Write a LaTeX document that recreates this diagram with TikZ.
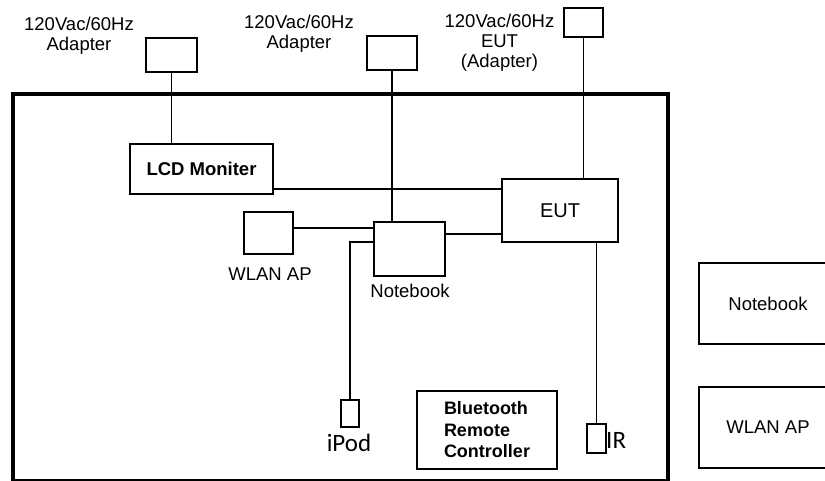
\documentclass[tikz,border=0pt]{standalone}
\usepackage{fontspec}
\setmainfont{Liberation Sans}
\newfontfamily\calfont{Carlito}
\usetikzlibrary{positioning,calc}
\newcommand\lblfont{\fontsize{18.5}{20}\selectfont}
\tikzset{
  unit/.style={draw=black,line width=1.7pt,fill=white,inner sep=0pt,align=center,font=\lblfont},
  boldunit/.style={unit,font=\lblfont\bfseries},
  tag/.style={font=\lblfont,align=center,inner sep=0pt},
  bigtag/.style={font=\calfont\fontsize{25}{27}\selectfont,inner sep=0pt},
  wire/.style={line width=1.8pt,draw=black},
  room/.style={line width=4pt,draw=black}
}
\begin{document}
\begin{tikzpicture}[x=1pt,y=-1pt]
  \useasboundingbox (0,0) rectangle (825,480);
  % test room
  \draw[room] (12.5,94) rectangle (668,481);
  % power adapters
  \node[unit,minimum width=51pt,minimum height=34pt] (adpLcd) at (171.5,55) {};
  \node[unit,minimum width=50pt,minimum height=34pt] (adpNb) at (392,53) {};
  \node[unit,minimum width=39pt,minimum height=29pt] (adpEut) at (583.5,22.5) {};
  \node[tag] (adpLcdTxt) at (79,36) {120Vac/60Hz\\Adapter};
  \node[tag] (adpNbTxt) at (299,34) {120Vac/60Hz\\Adapter};
  \node[tag] (adpEutTxt) at (499.5,43) {120Vac/60Hz\\EUT\\(Adapter)};
  % equipment inside
  \node[boldunit,minimum width=143pt,minimum height=50pt] (lcd) at (201.5,169) {LCD Moniter};
  \node[unit,minimum width=116pt,minimum height=63pt,font=\fontsize{20}{22}\selectfont] (eut) at (560,210.5) {EUT};
  \node[unit,minimum width=71pt,minimum height=54pt] (nb) at (409.5,249) {};
  \node[tag] (nbTxt) at (410,291) {Notebook};
  \node[unit,minimum width=49pt,minimum height=42pt] (wlan) at (268.5,233) {};
  \node[tag] (wlanTxt) at (270,274) {WLAN AP};
  \node[unit,minimum width=18pt,minimum height=27pt] (ipod) at (350,413.5) {};
  \node[bigtag] (ipodTxt) at (349,443) {iPod};
  \node[boldunit,minimum width=140pt,minimum height=78pt,align=left,font=\fontsize{18}{21.5}\selectfont\bfseries] (bt) at (487,430) {Bluetooth\\Remote\\Controller};
  \node[unit,minimum width=19pt,minimum height=29pt] (ir) at (596.5,438.5) {};
  \node[bigtag,anchor=west] (irTxt) at (606,440) {IR};
  % equipment outside
  \node[unit,minimum width=138pt,minimum height=81pt] (nbOut) at (768,303.5) {Notebook};
  \node[unit,minimum width=138pt,minimum height=81pt] (wlanOut) at (768,427.5) {WLAN AP};
  % cables
  \draw[wire] (adpLcd.south) -- (adpLcd.south |- lcd.north);
  \draw[wire] (adpNb.south) -- (adpNb.south |- nb.north);
  \draw[wire] (adpEut.south) -- (adpEut.south |- eut.north);
  \draw[wire] ([yshift=6pt]lcd.south east) -- ([yshift=6pt]lcd.south east -| eut.west);
  \draw[wire] ([yshift=5pt]wlan.east) -- ([yshift=5pt]wlan.east -| nb.west);
  \draw[wire] ([yshift=15pt]nb.east) -- ([yshift=15pt]nb.east -| eut.west);
  \draw[wire] ([yshift=7pt]nb.west) -| (ipod.north);
  \draw[wire] (ir.north |- eut.south) -- (ir.north);
\end{tikzpicture}
\end{document}
